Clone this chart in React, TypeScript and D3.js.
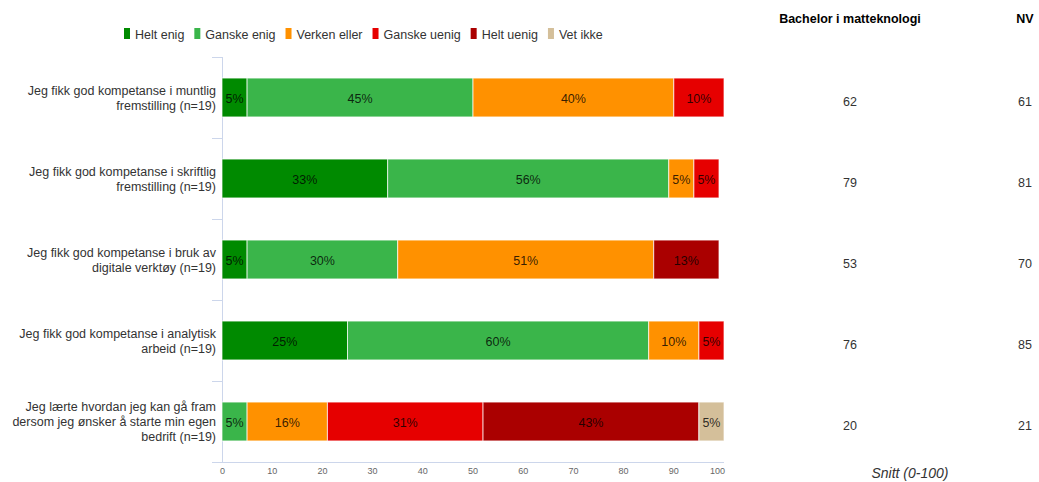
import React, { useMemo } from "react";
import * as d3 from "d3";

const categories: string[][] = [
  ["Jeg fikk god kompetanse i muntlig", "fremstilling (n=19)"],
  ["Jeg fikk god kompetanse i skriftlig", "fremstilling (n=19)"],
  ["Jeg fikk god kompetanse i bruk av", "digitale verktøy (n=19)"],
  ["Jeg fikk god kompetanse i analytisk", "arbeid (n=19)"],
  ["Jeg lærte hvordan jeg kan gå fram", "dersom jeg ønsker å starte min egen", "bedrift (n=19)"],
];
const seriesNames = ["Helt enig", "Ganske enig", "Verken eller", "Ganske uenig", "Helt uenig", "Vet ikke"];
const seriesColors = ["#008a00", "#3ab54a", "#ff9100", "#e60000", "#aa0000", "#d4bf9a"];
const heltEnig = [5, 33, 5, 25, 0];
const ganskeEnig = [45, 56, 30, 60, 5];
const verkenEller = [40, 5, 51, 10, 16];
const ganskeUenig = [10, 5, 0, 5, 31];
const heltUenig = [0, 0, 13, 0, 43];
const vetIkke = [0, 0, 0, 0, 5];
const xTicks = [0, 10, 20, 30, 40, 50, 60, 70, 80, 90, 100];
const tableHeaders = ["Bachelor i matteknologi", "NV"];
const bachelorValues = [62, 79, 53, 76, 20];
const nvValues = [61, 81, 70, 85, 21];
const tableFooter = "Snitt (0-100)";

const FONT = "'Liberation Sans', Arial, sans-serif";
const FS = 12.5;

function measure(text: string, size: number): number {
  const c = document.createElement("canvas").getContext("2d");
  if (!c) return text.length * size * 0.5;
  c.font = `${size}px 'Liberation Sans', Arial, sans-serif`;
  return c.measureText(text).width;
}

export default function App() {
  const W = 1039, H = 482;
  const plotLeft = 222, plotRight = 724, plotTop = 57, plotBottom = 462;
  const x = d3.scaleLinear().domain([0, 100]).range([plotLeft, plotRight]);
  const y = d3.scaleBand<number>().domain(d3.range(categories.length)).range([plotTop, plotBottom]).paddingInner(0.52).paddingOuter(0.26);
  const series = [heltEnig, ganskeEnig, verkenEller, ganskeUenig, heltUenig, vetIkke];
  const rows = categories.map((_, i) => series.map((s) => s[i]));
  const stack = d3.stack<number[]>().keys(seriesNames.map((_, k) => String(k))).value((d, key) => d[+key]);
  const stacked = stack(rows);
  const bandStep = (plotBottom - plotTop) / categories.length;

  const legend = useMemo(() => {
    let cx = 124;
    return seriesNames.map((n, i) => {
      const item = { name: n, color: seriesColors[i], x: cx };
      cx += 11 + measure(n, FS) + 10;
      return item;
    });
  }, []);

  const col1 = 850, col2 = 1025;

  return (
    <svg width={W} height={H} style={{ position: "absolute", left: 0, top: 0, fontFamily: FONT }}>
      <rect width={W} height={H} fill="#fff" />
      {legend.map((l) => (
        <g key={l.name}>
          <rect x={l.x} y={28} width={6} height={11} fill={l.color} />
          <text x={l.x + 11} y={38.5} fontSize={FS} fill="#333">{l.name}</text>
        </g>
      ))}
      <line x1={plotLeft + 0.5} x2={plotLeft + 0.5} y1={plotTop} y2={plotBottom} stroke="#ccd6eb" />
      {d3.range(categories.length + 1).map((i) => (
        <line key={i} x1={plotLeft - 10} x2={plotLeft} y1={Math.round(plotTop + i * bandStep) + 0.5} y2={Math.round(plotTop + i * bandStep) + 0.5} stroke="#ccd6eb" />
      ))}
      <line x1={plotLeft - 10} x2={plotRight} y1={plotBottom + 0.5} y2={plotBottom + 0.5} stroke="#ccd6eb" />
      {xTicks.map((t, i) => (
        <text key={t} x={x(t)} y={474} fontSize={9} fill="#666" textAnchor={i === xTicks.length - 1 ? "end" : i === 0 ? "start" : "middle"} dx={i === xTicks.length - 1 ? 1 : i === 0 ? -2 : 0}>{t}</text>
      ))}
      {stacked.map((layer, k) => (
        <g key={k}>
          {layer.map((d, i) => {
            const v = d[1] - d[0];
            if (v <= 0) return null;
            const x0 = x(d[0]), x1 = x(d[1]);
            const by = y(i)!;
            const bh = y.bandwidth();
            return (
              <g key={i}>
                <rect x={x0} y={by} width={x1 - x0} height={bh} fill={seriesColors[k]} stroke="#fff" strokeOpacity={0.7} strokeWidth={1} />
                <text x={(x0 + x1) / 2} y={by + bh / 2 + 5} fontSize={FS} fill="#000" fillOpacity={0.8} textAnchor="middle">{v}%</text>
              </g>
            );
          })}
        </g>
      ))}
      {categories.map((lines, i) => {
        const cy = plotTop + (i + 0.5) * bandStep;
        const lh = 15;
        const start = cy - ((lines.length - 1) * lh) / 2 + 4.5;
        return (
          <text key={i} fontSize={FS} fill="#333" textAnchor="end">
            {lines.map((ln, j) => (
              <tspan key={j} x={216} y={start + j * lh}>{ln}</tspan>
            ))}
          </text>
        );
      })}
      <text x={col1} y={23} fontSize={FS} fontWeight="bold" fill="#000" textAnchor="middle">{tableHeaders[0]}</text>
      <text x={col2} y={23} fontSize={FS} fontWeight="bold" fill="#000" textAnchor="middle">{tableHeaders[1]}</text>
      {bachelorValues.map((v, i) => (
        <text key={"b" + i} x={col1} y={plotTop + (i + 0.5) * bandStep + 8} fontSize={FS} fill="#333" textAnchor="middle">{v}</text>
      ))}
      {nvValues.map((v, i) => (
        <text key={"n" + i} x={col2} y={plotTop + (i + 0.5) * bandStep + 8} fontSize={FS} fill="#333" textAnchor="middle">{v}</text>
      ))}
      <text x={910} y={478} fontSize={14} fontStyle="italic" fill="#333" textAnchor="middle">{tableFooter}</text>
    </svg>
  );
}
